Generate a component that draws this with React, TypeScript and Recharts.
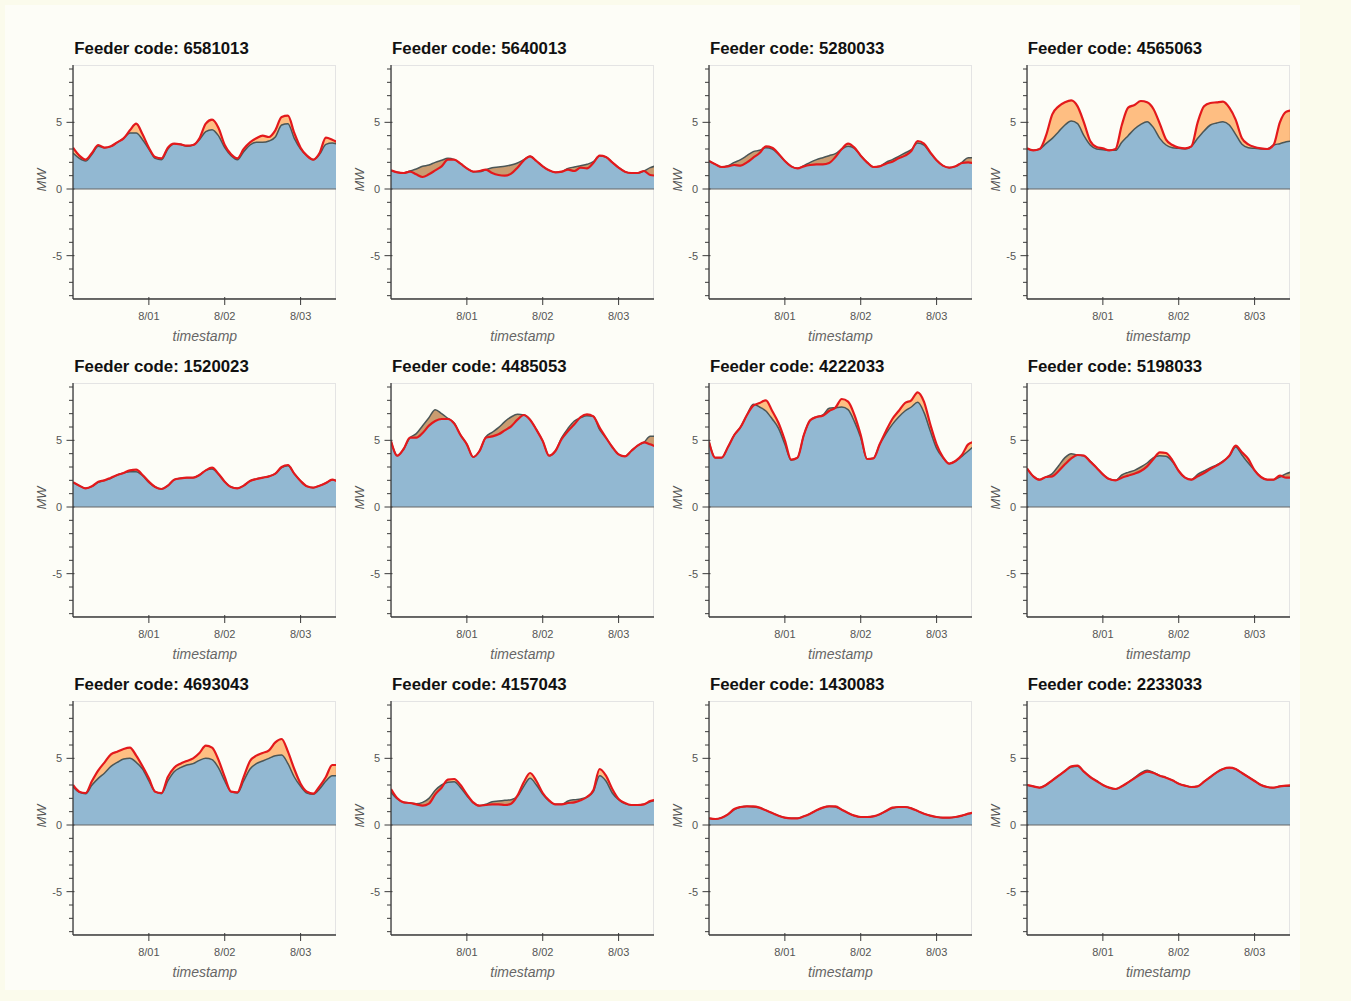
import { Area, ComposedChart, Line, ReferenceLine, XAxis, YAxis } from "recharts";

// hours since 7/31 00:00, one sample every 2 hours
const hours = [0, 2, 4, 6, 8, 10, 12, 14, 16, 18, 20, 22, 24, 26, 28, 30, 32, 34, 36, 38, 40, 42, 44, 46, 48, 50, 52, 54, 56, 58, 60, 62, 64, 66, 68, 70, 72, 74, 76, 78, 80, 82, 84];
const xTickHours = [24, 48, 72];
const xTickLabels = ["8/01", "8/02", "8/03"];
const yTicks = [-8, -7, -6, -5, -4, -3, -2, -1, 0, 1, 2, 3, 4, 5, 6, 7, 8, 9];
const yLabelTicks = [-5, 0, 5];

const feederCodes = ["6581013", "5640013", "5280033", "4565063", "1520023", "4485053", "4222033", "5198033", "4693043", "4157043", "1430083", "2233033"];

// base = blue area (grey outline), load = red line
const base6581013 = [2.7, 2.3, 2.1, 2.6, 3.2, 3.1, 3.2, 3.5, 3.8, 4.2, 4.2, 3.7, 3.0, 2.3, 2.2, 3.0, 3.4, 3.35, 3.2, 3.3, 3.7, 4.3, 4.45, 4.0, 3.1, 2.5, 2.2, 2.8, 3.3, 3.5, 3.5, 3.6, 3.9, 4.8, 4.9, 3.8, 3.0, 2.5, 2.2, 2.6, 3.35, 3.45, 3.35];
const load6581013 = [3.1, 2.5, 2.2, 2.7, 3.3, 3.1, 3.2, 3.5, 3.8, 4.4, 4.9, 4.1, 3.1, 2.4, 2.3, 3.1, 3.4, 3.35, 3.25, 3.3, 3.8, 4.9, 5.2, 4.6, 3.3, 2.6, 2.3, 3.0, 3.5, 3.8, 4.0, 3.9, 4.4, 5.4, 5.5, 4.2, 3.1, 2.5, 2.2, 2.7, 3.85, 3.7, 3.45];

const base5640013 = [1.4, 1.25, 1.2, 1.35, 1.5, 1.7, 1.8, 2.0, 2.15, 2.3, 2.2, 1.9, 1.55, 1.3, 1.3, 1.45, 1.6, 1.65, 1.7, 1.8, 1.95, 2.2, 2.45, 2.1, 1.7, 1.4, 1.25, 1.3, 1.55, 1.65, 1.75, 1.85, 2.05, 2.5, 2.4, 2.0, 1.6, 1.3, 1.2, 1.2, 1.35, 1.6, 1.75];
const load5640013 = [1.4, 1.25, 1.2, 1.3, 1.1, 0.9, 1.1, 1.4, 1.7, 2.2, 2.2, 1.9, 1.55, 1.3, 1.35, 1.45, 1.2, 1.05, 1.0, 1.15, 1.6, 2.15, 2.45, 2.1, 1.7, 1.4, 1.25, 1.3, 1.45, 1.35, 1.6, 1.55, 1.95, 2.5, 2.4, 2.0, 1.6, 1.3, 1.2, 1.2, 1.35, 1.05, 1.0];

const base5280033 = [2.1, 1.85, 1.65, 1.75, 2.0, 2.2, 2.5, 2.8, 2.9, 3.1, 3.0, 2.6, 2.1, 1.7, 1.55, 1.75, 2.0, 2.2, 2.35, 2.5, 2.65, 3.0, 3.2, 3.05, 2.5, 2.0, 1.65, 1.7, 2.0, 2.2, 2.45, 2.7, 2.95, 3.45, 3.3, 2.7, 2.15, 1.75, 1.6, 1.7, 2.0, 2.35, 2.35];
const load5280033 = [2.1, 1.85, 1.65, 1.7, 1.8, 1.75, 2.0, 2.35, 2.7, 3.2, 3.1, 2.65, 2.1, 1.7, 1.55, 1.7, 1.8, 1.85, 1.85, 1.95, 2.4, 3.0, 3.4, 3.1, 2.5, 2.0, 1.65, 1.7, 1.9, 2.05, 2.3, 2.5, 2.85, 3.6, 3.4, 2.75, 2.15, 1.75, 1.6, 1.7, 1.95, 2.0, 1.9];

const base4565063 = [3.0, 2.9, 3.0, 3.4, 3.8, 4.3, 4.8, 5.1, 4.9, 4.0, 3.3, 3.0, 2.95, 2.9, 2.9, 3.5, 4.0, 4.5, 4.85, 5.05, 4.6, 3.8, 3.3, 3.1, 3.05, 3.0, 3.2, 3.8, 4.35, 4.8, 4.95, 5.05, 4.8, 4.1, 3.35, 3.1, 3.05, 3.0, 3.0, 3.3, 3.4, 3.55, 3.6];
const load4565063 = [3.05, 2.9, 3.0, 4.0, 5.6, 6.2, 6.5, 6.65, 6.2, 5.0, 3.6, 3.15, 3.05, 2.9, 3.0, 4.8, 6.1, 6.3, 6.6, 6.5, 6.0, 4.9, 3.7, 3.3, 3.1, 3.05, 3.2, 5.0, 6.2, 6.45, 6.5, 6.55, 6.1, 5.2, 3.8, 3.35, 3.15, 3.05, 3.0, 3.3, 5.0, 5.8, 5.9];

const base1520023 = [1.85, 1.6, 1.4, 1.55, 1.85, 2.0, 2.15, 2.4, 2.55, 2.65, 2.65, 2.35, 1.85, 1.5, 1.35, 1.6, 2.05, 2.15, 2.2, 2.2, 2.4, 2.75, 2.85, 2.45, 1.9, 1.5, 1.4, 1.6, 1.95, 2.1, 2.2, 2.3, 2.5, 2.95, 3.1, 2.5, 1.95, 1.55, 1.45, 1.6, 1.8, 2.05, 1.95];
const load1520023 = [1.85, 1.6, 1.4, 1.55, 1.9, 2.0, 2.2, 2.4, 2.55, 2.75, 2.8, 2.4, 1.9, 1.5, 1.35, 1.6, 2.05, 2.15, 2.2, 2.2, 2.4, 2.75, 2.95, 2.5, 1.9, 1.5, 1.4, 1.6, 1.95, 2.1, 2.2, 2.3, 2.5, 3.0, 3.15, 2.5, 1.95, 1.55, 1.45, 1.6, 1.8, 2.05, 1.85];

const base4485053 = [4.95, 3.85, 4.35, 5.2, 5.5, 6.1, 6.7, 7.3, 7.0, 6.65, 6.3, 5.4, 4.7, 3.75, 4.2, 5.25, 5.6, 5.95, 6.4, 6.75, 6.95, 6.9, 6.55, 5.8, 4.95, 3.85, 4.2, 5.2, 5.9, 6.45, 6.7, 6.85, 6.8, 5.8, 5.2, 4.5, 3.95, 3.8, 4.2, 4.6, 4.85, 5.3, 5.3];
const load4485053 = [4.95, 3.85, 4.35, 5.2, 5.2, 5.55, 6.1, 6.45, 6.6, 6.6, 6.25, 5.4, 4.7, 3.75, 4.2, 5.2, 5.3, 5.45, 5.75, 6.05, 6.55, 6.9, 6.55, 5.8, 4.95, 3.85, 4.2, 5.1, 5.7, 6.2, 6.75, 6.95, 6.8, 5.95, 5.2, 4.5, 3.95, 3.8, 4.2, 4.6, 4.85, 4.7, 4.5];

const base4222033 = [4.9, 3.7, 3.7, 4.5, 5.4, 6.0, 6.9, 7.7, 7.5, 7.2, 6.6, 5.9, 4.7, 3.5, 3.7, 5.4, 6.5, 6.75, 6.9, 7.4, 7.45, 7.5, 7.3, 6.4, 5.2, 3.6, 3.65, 4.7, 5.5, 6.2, 6.75, 7.2, 7.5, 7.85, 7.1, 5.7, 4.4, 3.7, 3.25, 3.45, 3.8, 4.2, 4.6];
const load4222033 = [4.9, 3.7, 3.7, 4.5, 5.4, 6.0, 6.9, 7.6, 7.8, 8.0, 7.2, 6.3, 5.0, 3.55, 3.7, 5.4, 6.5, 6.75, 6.85, 7.2, 7.45, 8.1, 7.9, 6.9, 5.4, 3.6, 3.65, 4.7, 5.7, 6.6, 7.2, 7.8, 8.0, 8.6, 7.9, 6.2, 4.7, 3.75, 3.25, 3.45, 3.9, 4.7, 4.9];

const base5198033 = [2.9, 2.3, 2.05, 2.25, 2.5, 3.1, 3.7, 4.0, 3.9, 3.85, 3.45, 2.95, 2.45, 2.1, 2.0, 2.4, 2.6, 2.75, 3.0, 3.3, 3.7, 3.85, 3.8, 3.4, 2.7, 2.2, 2.05, 2.45, 2.7, 2.95, 3.15, 3.45, 3.8, 4.5, 3.9, 3.3, 2.75, 2.25, 2.05, 2.05, 2.25, 2.5, 2.65];
const load5198033 = [2.9, 2.3, 2.05, 2.25, 2.3, 2.7, 3.2, 3.65, 3.9, 3.85, 3.4, 2.95, 2.45, 2.1, 2.0, 2.2, 2.35, 2.5, 2.7, 3.05, 3.6, 4.1, 4.05, 3.5, 2.7, 2.2, 2.05, 2.3, 2.55, 2.85, 3.1, 3.4, 3.85, 4.6, 4.1, 3.6, 2.75, 2.25, 2.05, 2.05, 2.35, 2.2, 2.2];

const base4693043 = [2.85, 2.45, 2.35, 3.0, 3.5, 3.9, 4.4, 4.7, 4.95, 5.0, 4.7, 4.2, 3.3, 2.5, 2.35, 3.3, 4.0, 4.3, 4.5, 4.6, 4.85, 5.0, 4.9, 4.3, 3.3, 2.5, 2.4, 3.3, 4.2, 4.6, 4.8, 5.0, 5.2, 5.25, 4.6, 3.6, 2.9, 2.4, 2.3, 2.7, 3.3, 3.7, 3.7];
const load4693043 = [3.0, 2.5, 2.4, 3.3, 4.1, 4.7, 5.3, 5.5, 5.7, 5.8, 5.2, 4.4, 3.5, 2.5, 2.4, 3.6, 4.3, 4.6, 4.8, 5.0, 5.4, 5.95, 5.8, 4.9, 3.6, 2.5, 2.45, 3.6, 4.8, 5.2, 5.4, 5.6, 6.2, 6.45, 5.5, 4.2, 3.1, 2.5, 2.35, 2.9, 3.6, 4.5, 4.5];

const base4157043 = [2.45, 1.95, 1.7, 1.65, 1.6, 1.7, 2.0, 2.6, 3.0, 3.2, 3.25, 2.8, 2.2, 1.65, 1.45, 1.55, 1.75, 1.8, 1.85, 1.9, 2.15, 2.9, 3.5, 3.0, 2.3, 1.8, 1.55, 1.55, 1.8, 1.9, 1.95, 2.1, 2.5, 3.7, 3.3, 2.4, 1.9, 1.6, 1.5, 1.5, 1.55, 1.75, 1.85];
const load4157043 = [2.7, 2.0, 1.7, 1.65, 1.55, 1.45, 1.6, 2.3, 2.8, 3.4, 3.45, 3.0, 2.3, 1.7, 1.45, 1.5, 1.55, 1.55, 1.5, 1.6, 2.2, 3.2, 3.9, 3.3, 2.4, 1.85, 1.55, 1.55, 1.65, 1.7, 1.85, 2.1, 2.6, 4.2, 3.7, 2.7, 1.95, 1.65, 1.5, 1.5, 1.55, 1.8, 1.9];

const base1430083 = [0.5, 0.45, 0.55, 0.8, 1.15, 1.35, 1.4, 1.35, 1.3, 1.1, 0.9, 0.7, 0.55, 0.5, 0.5, 0.65, 0.85, 1.1, 1.3, 1.4, 1.35, 1.15, 0.9, 0.7, 0.6, 0.6, 0.65, 0.8, 1.05, 1.25, 1.35, 1.35, 1.25, 1.05, 0.85, 0.7, 0.6, 0.55, 0.55, 0.6, 0.7, 0.85, 0.9];
const load1430083 = [0.5, 0.45, 0.55, 0.8, 1.2, 1.35, 1.4, 1.4, 1.3, 1.1, 0.9, 0.7, 0.55, 0.5, 0.5, 0.65, 0.85, 1.1, 1.3, 1.4, 1.4, 1.15, 0.9, 0.7, 0.6, 0.6, 0.65, 0.8, 1.05, 1.3, 1.35, 1.35, 1.25, 1.05, 0.85, 0.7, 0.6, 0.55, 0.55, 0.6, 0.7, 0.85, 0.95];

const base2233033 = [3.0, 2.9, 2.8, 3.0, 3.35, 3.7, 4.05, 4.35, 4.4, 4.0, 3.6, 3.3, 3.0, 2.8, 2.7, 2.9, 3.2, 3.55, 3.9, 4.1, 3.95, 3.7, 3.55, 3.35, 3.1, 2.95, 2.85, 2.9, 3.25, 3.6, 3.95, 4.2, 4.3, 4.2, 3.9, 3.6, 3.3, 3.0, 2.85, 2.8, 2.9, 2.9, 2.9];
const load2233033 = [3.0, 2.9, 2.8, 3.0, 3.35, 3.7, 4.05, 4.4, 4.45, 4.0, 3.6, 3.3, 3.0, 2.8, 2.7, 2.9, 3.2, 3.5, 3.8, 4.0, 3.9, 3.7, 3.55, 3.35, 3.1, 2.95, 2.85, 2.9, 3.25, 3.6, 3.95, 4.2, 4.3, 4.2, 3.9, 3.6, 3.3, 3.0, 2.85, 2.8, 2.9, 2.95, 3.0];

const baseSeries = [base6581013, base5640013, base5280033, base4565063, base1520023, base4485053, base4222033, base5198033, base4693043, base4157043, base1430083, base2233033];
const loadSeries = [load6581013, load5640013, load5280033, load4565063, load1520023, load4485053, load4222033, load5198033, load4693043, load4157043, load1430083, load2233033];

const FONT = '"Liberation Sans", Arial, Helvetica, sans-serif';
const AXIS_COLOR = "#3a3a3a";
const PLOT_W = 263;
const PLOT_H = 234;
const AXIS_W = 70;
const PAD_T = 10;
const PAD_R = 10;
const X_AXIS_H = 30;
const COL_LEFT = [73.3, 391.1, 708.9, 1026.7];
const ROW_TOP = [65.3, 383.3, 701.3];

function YTick({ x, y, payload }: any) {
  const major = yLabelTicks.includes(payload.value);
  return (
    <g>
      <line x1={x - (major ? 6.5 : 4)} x2={x + (major ? 1.5 : 0)} y1={y} y2={y} stroke={AXIS_COLOR} strokeWidth={1} />
      {major && (
        <text x={x - 11} y={y} dy="0.35em" textAnchor="end" fontSize={11} fill="#555" fontFamily={FONT}>
          {payload.value}
        </text>
      )}
    </g>
  );
}

function XTick({ x, y, payload }: any) {
  const label = xTickLabels[xTickHours.indexOf(payload.value)];
  return (
    <g>
      <line x1={x} x2={x} y1={y - 2} y2={y + 6} stroke={AXIS_COLOR} strokeWidth={1} />
      <text x={x} y={y + 17} dy="0.35em" textAnchor="middle" fontSize={11} fill="#555" fontFamily={FONT}>
        {label}
      </text>
    </g>
  );
}

function Panel({ code, base, load, plotLeft, plotTop }: any) {
  const rows = hours.map((h, i) => ({ h, base: base[i], load: load[i] }));
  return (
    <>
      <div
        style={{
          position: "absolute",
          left: plotLeft + 1,
          top: plotTop - 25,
          font: `bold 16.8px ${FONT}`,
          lineHeight: "17px",
          color: "#111",
          whiteSpace: "nowrap",
        }}
      >
        Feeder code: {code}
      </div>
      <div
        style={{
          position: "absolute",
          left: plotLeft,
          top: plotTop,
          width: PLOT_W,
          height: PLOT_H,
          border: "1px solid #e4e4e4",
          boxSizing: "border-box",
        }}
      />
      <div style={{ position: "absolute", left: plotLeft - AXIS_W, top: plotTop - PAD_T }}>
        <ComposedChart
          width={AXIS_W + PLOT_W + PAD_R}
          height={PAD_T + PLOT_H + X_AXIS_H}
          data={rows}
          margin={{ top: PAD_T, right: PAD_R, bottom: 0, left: 0 }}
        >
          <XAxis
            type="number"
            dataKey="h"
            domain={[0, 83.2]}
            allowDataOverflow
            ticks={xTickHours}
            interval={0}
            height={X_AXIS_H}
            tickSize={0}
            tickMargin={0}
            stroke={AXIS_COLOR}
            strokeWidth={1.3}
            tick={<XTick />}
          />
          <YAxis
            type="number"
            domain={[-8.25, 9.3]}
            allowDataOverflow
            ticks={yTicks}
            interval={0}
            width={AXIS_W}
            tickSize={0}
            tickMargin={0}
            stroke={AXIS_COLOR}
            strokeWidth={1.3}
            tick={<YTick />}
          />
          <Area dataKey="base" type="monotone" baseValue={0} fill="#92b8d2" fillOpacity={1} stroke="none" isAnimationActive={false} />
          <Area
            dataKey={(d: any) => [d.base, d.load]}
            type="monotone"
            fill="#ff7f0e"
            fillOpacity={0.5}
            stroke="none"
            isAnimationActive={false}
          />
          <ReferenceLine y={0} stroke="#666" strokeWidth={1} />
          <Line dataKey="base" type="monotone" stroke="#4b5656" strokeWidth={1.5} dot={false} isAnimationActive={false} />
          <Line dataKey="load" type="monotone" stroke="#e3191c" strokeWidth={2.2} dot={false} isAnimationActive={false} />
        </ComposedChart>
      </div>
      <div
        style={{
          position: "absolute",
          left: plotLeft - 32,
          top: plotTop + PLOT_H / 2 - 2,
          transform: "translate(-50%, -50%) rotate(-90deg)",
          font: `italic 13px ${FONT}`,
          color: "#555",
        }}
      >
        MW
      </div>
      <div
        style={{
          position: "absolute",
          left: plotLeft + PLOT_W / 2,
          top: plotTop + PLOT_H + 37,
          transform: "translate(-50%, -50%)",
          font: `italic 14px ${FONT}`,
          color: "#666",
          whiteSpace: "nowrap",
        }}
      >
        timestamp
      </div>
    </>
  );
}

export default function App() {
  return (
    <div style={{ position: "absolute", left: 0, top: 0, width: 1351, height: 1001, background: "#fbfbec", overflow: "hidden" }}>
      <div style={{ position: "absolute", left: 5, top: 5, width: 1295, height: 985, background: "#fdfdf7" }} />
      {feederCodes.map((code, i) => (
        <Panel
          key={code}
          code={code}
          base={baseSeries[i]}
          load={loadSeries[i]}
          plotLeft={COL_LEFT[i % 4]}
          plotTop={ROW_TOP[Math.floor(i / 4)]}
        />
      ))}
    </div>
  );
}
